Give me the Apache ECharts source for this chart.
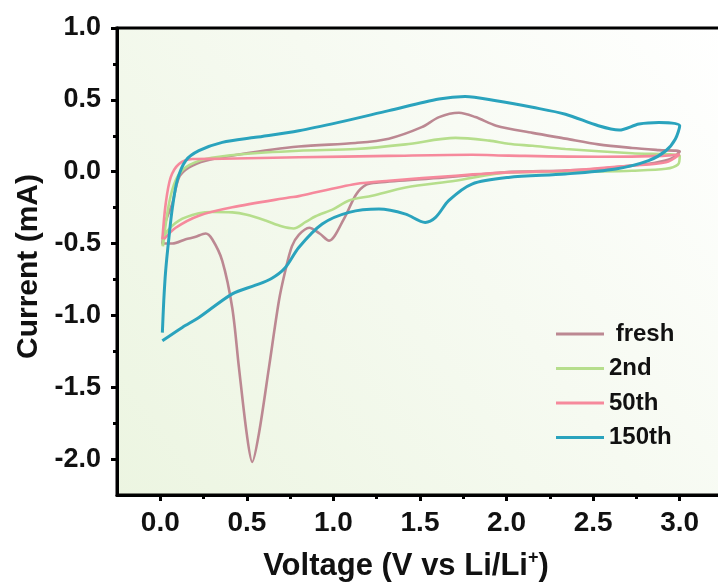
<!DOCTYPE html>
<html>
<head>
<meta charset="utf-8">
<script src="https://cdn.jsdelivr.net/npm/echarts@6/dist/echarts.min.js"></script>
<style>
  html, body { margin: 0; padding: 0; background: #ffffff; }
  #chart { width: 718px; height: 588px; }
</style>
</head>
<body>
<div id="chart"></div>
<script>
// ---- data (Voltage V vs Li/Li+, Current mA) ----
const seriesNames = ['fresh', '2nd', '50th', '150th'];

const fresh = [
  [2.02, 0.00], [1.64, -0.04], [1.26, -0.075], [1.19, -0.09], [1.13, -0.16], [1.06, -0.33],
  [0.975, -0.48], [0.92, -0.43], [0.86, -0.39], [0.80, -0.44], [0.76, -0.52], [0.72, -0.70],
  [0.685, -0.90], [0.628, -1.36], [0.57, -1.82], [0.531, -2.02], [0.50, -1.83], [0.454, -1.36],
  [0.416, -0.95], [0.358, -0.62], [0.30, -0.47], [0.262, -0.43], [0.20, -0.455], [0.147, -0.47],
  [0.07, -0.50], [0.012, -0.50],
  [0.03, -0.35], [0.07, -0.22], [0.108, -0.04], [0.166, 0.03], [0.262, 0.077], [0.454, 0.12],
  [0.80, 0.175], [1.128, 0.20], [1.32, 0.23], [1.51, 0.31], [1.61, 0.38], [1.725, 0.41],
  [1.82, 0.38], [1.94, 0.32], [2.15, 0.27], [2.34, 0.23], [2.53, 0.19], [2.725, 0.165],
  [2.88, 0.15], [3.0, 0.14],
  [2.95, 0.09], [2.85, 0.06], [2.725, 0.042], [2.53, 0.02], [2.34, 0.008], [2.15, 0.003], [2.02, 0.0]
];

const second = [
  [0.015, -0.52], [0.05, -0.225], [0.089, -0.06], [0.147, 0.03], [0.262, 0.088], [0.454, 0.12],
  [0.80, 0.146], [1.128, 0.158], [1.417, 0.19], [1.705, 0.235], [1.90, 0.216], [2.01, 0.195],
  [2.15, 0.18], [2.34, 0.158], [2.725, 0.128], [3.0, 0.11],
  [2.99, 0.05], [2.92, 0.02], [2.725, 0.007], [2.53, 0.002], [2.01, -0.005], [1.705, -0.063],
  [1.417, -0.11], [1.224, -0.167], [1.09, -0.20], [1.0, -0.26], [0.897, -0.31], [0.84, -0.35],
  [0.77, -0.395], [0.70, -0.38], [0.608, -0.34], [0.50, -0.30], [0.416, -0.283], [0.30, -0.28],
  [0.223, -0.29], [0.108, -0.34], [0.031, -0.43], [0.012, -0.515]
];

const fiftieth = [
  [0.012, -0.47], [0.031, -0.225], [0.06, -0.04], [0.108, 0.054], [0.185, 0.088], [0.358, 0.09],
  [0.80, 0.10], [1.32, 0.11], [1.80, 0.118], [2.01, 0.112], [2.53, 0.104], [2.9, 0.11], [3.0, 0.12],
  [2.92, 0.065], [2.725, 0.042], [2.34, 0.007], [2.01, -0.005], [1.705, -0.028], [1.32, -0.063],
  [1.128, -0.086], [0.80, -0.17], [0.743, -0.18], [0.416, -0.248], [0.223, -0.306], [0.089, -0.39],
  [0.021, -0.47]
];

const oneFiftieth = [
  [0.012, -1.12], [0.02, -0.9], [0.031, -0.69], [0.05, -0.457], [0.07, -0.25], [0.098, -0.06],
  [0.147, 0.077], [0.223, 0.146], [0.358, 0.204], [0.55, 0.239], [0.80, 0.285], [1.03, 0.343],
  [1.32, 0.425], [1.61, 0.506], [1.76, 0.524], [1.94, 0.494], [2.15, 0.448], [2.34, 0.40],
  [2.53, 0.32], [2.65, 0.29], [2.765, 0.332], [2.88, 0.343], [3.0, 0.32],
  [2.975, 0.228], [2.92, 0.146], [2.82, 0.077], [2.63, 0.019], [2.34, -0.016], [2.01, -0.04],
  [1.80, -0.086], [1.667, -0.2], [1.59, -0.318], [1.53, -0.353], [1.417, -0.295], [1.263, -0.26],
  [1.09, -0.283], [0.935, -0.364], [0.80, -0.527], [0.72, -0.67], [0.64, -0.745], [0.55, -0.79],
  [0.416, -0.85], [0.223, -1.015], [0.127, -1.084], [0.012, -1.177]
];

const xMajorTicks = [0.0, 0.5, 1.0, 1.5, 2.0, 2.5, 3.0];
const xMinorTicks = [0.25, 0.75, 1.25, 1.75, 2.25, 2.75];
const yMajorTicks = [-2.0, -1.5, -1.0, -0.5, 0.0, 0.5, 1.0];
const yMinorTicks = [-1.75, -1.25, -0.75, -0.25, 0.25, 0.75];

const colors = ['#bc8892', '#b6de8c', '#f6899c', '#2aa3bd'];

// ---- chart ----
const chart = echarts.init(document.getElementById('chart'), null, { renderer: 'canvas' });
const FONT = 'Liberation Sans, Arial, sans-serif';
const GRID = { left: 117, top: 28, width: 606, height: 467 };

const option = {
  backgroundColor: '#ffffff',
  animation: false,
  color: colors,
  grid: {
    left: GRID.left, top: GRID.top, width: GRID.width, height: GRID.height,
    outerBoundsMode: 'none',
    containLabel: false,
    show: true,
    borderColor: '#000',
    borderWidth: 3,
    backgroundColor: {
      type: 'linear', x: 0, y: 1, x2: 1, y2: 0,
      colorStops: [
        { offset: 0, color: '#ecf5e1' },
        { offset: 0.55, color: '#f6faf1' },
        { offset: 1, color: '#ffffff' }
      ]
    }
  },
  xAxis: [
    {
      type: 'value', min: -0.25, max: 3.25, position: 'bottom',
      axisLine: { show: true, onZero: false, lineStyle: { color: '#000', width: 3 } },
      axisTick: { show: true, customValues: xMajorTicks, length: 6, lineStyle: { color: '#000', width: 3 } },
      axisLabel: {
        show: true, customValues: xMajorTicks, margin: 14,
        formatter: v => Number(v).toFixed(1),
        fontSize: 28, fontWeight: 'bold', color: '#111', fontFamily: FONT
      },
      splitLine: { show: false },
      name: 'Voltage (V vs Li/Li{sup|+})',
      nameLocation: 'middle', nameGap: 54,
      nameTextStyle: {
        fontSize: 31, fontWeight: 'bold', color: '#111', fontFamily: FONT,
        padding: [0, 28, 0, 0],
        rich: { sup: { fontSize: 18, fontWeight: 'bold', color: '#111', fontFamily: FONT, padding: [0, 0, 16, 0] } }
      }
    },
    {
      type: 'value', min: -0.25, max: 3.25, position: 'top', offset: -GRID.height,
      axisLine: { show: false, onZero: false },
      axisTick: { show: true, inside: true, customValues: xMinorTicks, length: 4, lineStyle: { color: '#000', width: 3 } },
      axisLabel: { show: false },
      splitLine: { show: false }
    }
  ],
  yAxis: [
    {
      type: 'value', min: -2.25, max: 1.0, position: 'left',
      axisLine: { show: true, onZero: false, lineStyle: { color: '#000', width: 3 } },
      axisTick: { show: true, customValues: yMajorTicks, length: 6, lineStyle: { color: '#000', width: 3 } },
      axisLabel: {
        show: true, customValues: yMajorTicks, margin: 16,
        formatter: v => Number(v).toFixed(1),
        fontSize: 27, fontWeight: 'bold', color: '#111', fontFamily: FONT
      },
      splitLine: { show: false },
      name: 'Current (mA)',
      nameLocation: 'middle', nameGap: 73,
      nameTextStyle: { fontSize: 30, fontWeight: 'bold', color: '#111', fontFamily: FONT, padding: [0, 10, 0, 0] }
    },
    {
      type: 'value', min: -2.25, max: 1.0, position: 'right', offset: -GRID.width,
      axisLine: { show: false, onZero: false },
      axisTick: { show: true, inside: true, customValues: yMinorTicks, length: 4, lineStyle: { color: '#000', width: 3 } },
      axisLabel: { show: false },
      splitLine: { show: false }
    }
  ],
  legend: {
    orient: 'vertical', left: 551, top: 317,
    icon: 'rect', itemWidth: 48, itemHeight: 3, itemGap: 10.5,
    formatter: n => (n === 'fresh' ? ' ' + n : n),
    textStyle: { fontSize: 24, fontWeight: 'bold', color: '#111', fontFamily: FONT, lineHeight: 24 },
    data: seriesNames
  },
  series: [
    { name: seriesNames[0], data: fresh },
    { name: seriesNames[1], data: second },
    { name: seriesNames[2], data: fiftieth },
    { name: seriesNames[3], data: oneFiftieth }
  ].map((s, i) => ({
    type: 'line', name: s.name, data: s.data,
    xAxisIndex: 0, yAxisIndex: 0,
    showSymbol: false, symbol: 'none', smooth: 0.3,
    clip: false,
    lineStyle: { color: colors[i], width: i === 3 ? 3 : 2.6 },
    itemStyle: { color: colors[i] },
    z: 2 + i
  }))
};
chart.setOption(option);
</script>
</body>
</html>
